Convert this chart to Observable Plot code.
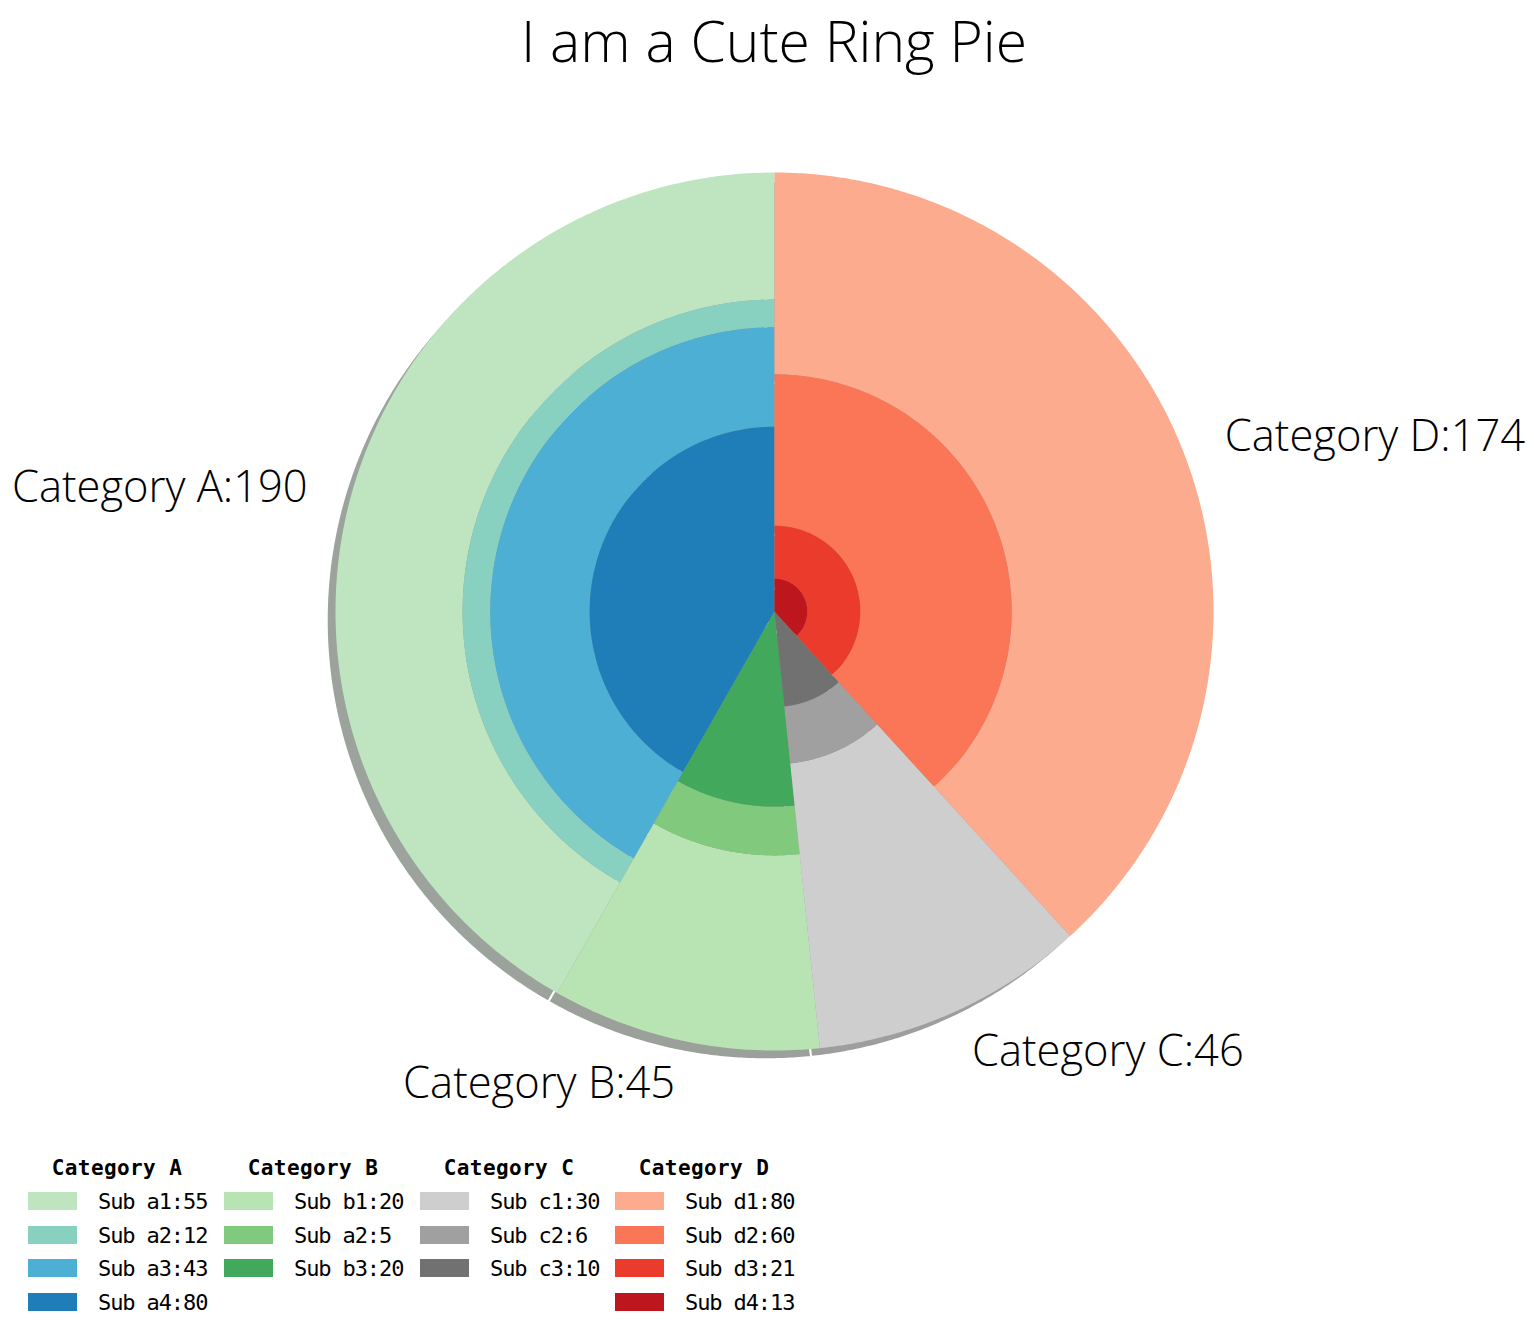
<!DOCTYPE html>
<html><head><meta charset="utf-8">
<script src="https://cdn.jsdelivr.net/npm/d3@7"></script>
<script src="https://cdn.jsdelivr.net/npm/@observablehq/plot@0.6"></script>
<style>
body{margin:0;background:#fff;}
#wrap{position:relative;width:1534px;height:1330px;overflow:hidden;background:#fff;}
#title{position:absolute;left:0;top:1px;width:1534px;box-sizing:border-box;padding-left:14px;text-align:center;font-family:"Open Sans";font-weight:300;font-size:57px;line-height:normal;color:#000;}
#chart{position:absolute;left:0;top:90px;}
.lgt{position:absolute;font-family:"DejaVu Sans Mono";font-weight:bold;font-size:21px;letter-spacing:0.4px;color:#000;white-space:nowrap;transform:translate(-50%,-50%);}
.lge{position:absolute;font-family:"DejaVu Sans Mono";font-size:22px;letter-spacing:-1.1px;color:#000;white-space:nowrap;transform:translateY(-50%);}
.sw{position:absolute;width:49px;height:18px;transform:translateY(-50%);}
</style></head>
<body><div id="wrap"><div id="title">I am a Cute Ring Pie</div><div id="chart"></div><div id="legend"></div></div>
<script>
const categories = ["Category A","Category B","Category C","Category D"];
const subNamesA = ["Sub a1","Sub a2","Sub a3","Sub a4"];
const subNamesB = ["Sub b1","Sub a2","Sub b3"];
const subNamesC = ["Sub c1","Sub c2","Sub c3"];
const subNamesD = ["Sub d1","Sub d2","Sub d3","Sub d4"];
const subValuesA = [55,12,43,80];
const subValuesB = [20,5,20];
const subValuesC = [30,6,10];
const subValuesD = [80,60,21,13];
const colorsA = ["#bee5bf","#88d0c0","#4cafd3","#1f7eb8"];
const colorsB = ["#b8e3b2","#80c97d","#41a85c"];
const colorsC = ["#cecece","#a0a0a0","#717171"];
const colorsD = ["#fcab8f","#fb7656","#eb3b2c","#bd161c"];

const subNames = [subNamesA, subNamesB, subNamesC, subNamesD];
const subValues = [subValuesA, subValuesB, subValuesC, subValuesD];
const subColors = [colorsA, colorsB, colorsC, colorsD];

const startAngle = 90, labelDistance = 1.1, shadowDx = -0.02, shadowDy = -0.02;
const totals = subValues.map(v => d3.sum(v));
const grand = d3.sum(totals);

const wedges = [];
const labels = [];
let cum = 0;
categories.forEach((c, k) => {
  const a0 = startAngle + 360 * cum / grand;
  cum += totals[k];
  const a1 = startAngle + 360 * cum / grand;
  const vals = subValues[k];
  vals.forEach((v, i) => {
    wedges.push({a0, a1, rOut: d3.sum(vals.slice(i)) / totals[k], rIn: d3.sum(vals.slice(i + 1)) / totals[k], color: subColors[k][i]});
  });
  const mid = (a0 + a1) / 2 * Math.PI / 180;
  labels.push({x: labelDistance * Math.cos(mid), y: labelDistance * Math.sin(mid), text: `${c}:${totals[k]}`});
});

function ring(w, dx, dy) {
  const n = Math.max(2, Math.ceil((w.a1 - w.a0) / 0.4));
  const pts = [];
  for (let j = 0; j <= n; j++) {
    const a = (w.a0 + (w.a1 - w.a0) * j / n) * Math.PI / 180;
    pts.push({x: dx + w.rOut * Math.cos(a), y: dy + w.rOut * Math.sin(a)});
  }
  if (w.rIn > 1e-9) {
    for (let j = n; j >= 0; j--) {
      const a = (w.a0 + (w.a1 - w.a0) * j / n) * Math.PI / 180;
      pts.push({x: dx + w.rIn * Math.cos(a), y: dy + w.rIn * Math.sin(a)});
    }
  } else pts.push({x: dx, y: dy});
  return pts;
}

const marks = [];
wedges.forEach(w => {
  const c = d3.rgb(w.color);
  const sc = d3.rgb(c.r * 0.3, c.g * 0.3, c.b * 0.3).formatHex();
  marks.push(Plot.line(ring(w, shadowDx, shadowDy), {x: "x", y: "y", curve: "linear-closed", fill: sc, fillOpacity: 0.5, stroke: "white", strokeWidth: 2}));
});
wedges.forEach(w => {
  marks.push(Plot.line(ring(w, 0, 0), {x: "x", y: "y", curve: "linear-closed", fill: w.color, stroke: null}));
});
const txt = {x: "x", y: "y", text: "text", fontFamily: "Open Sans", fontWeight: 300, fontSize: 43.5, fill: "black"};
marks.push(Plot.text(labels.filter(d => d.x < 0), {...txt, textAnchor: "end"}));
marks.push(Plot.text(labels.filter(d => d.x >= 0), {...txt, textAnchor: "start"}));

const plot = Plot.plot({
  width: 1534, height: 1040,
  marginLeft: 335, marginRight: 321, marginTop: 82, marginBottom: 80,
  x: {domain: [-1, 1], axis: null},
  y: {domain: [-1, 1], axis: null},
  style: {background: "white", overflow: "visible"},
  marks
});
document.getElementById("chart").appendChild(plot);

// legend
const lg = document.getElementById("legend");
const colX = [28, 224, 420, 615];
const titleY = 1168, rowY = [1201, 1235, 1268, 1302];
categories.forEach((c, k) => {
  const t = document.createElement("div");
  t.className = "lgt"; t.textContent = c;
  t.style.left = (colX[k] + 89) + "px"; t.style.top = titleY + "px";
  lg.appendChild(t);
  subValues[k].forEach((v, i) => {
    const s = document.createElement("div");
    s.className = "sw"; s.style.background = subColors[k][i];
    s.style.left = colX[k] + "px"; s.style.top = rowY[i] + "px";
    lg.appendChild(s);
    const e = document.createElement("div");
    e.className = "lge"; e.textContent = `${subNames[k][i]}:${v}`;
    e.style.left = (colX[k] + 70) + "px"; e.style.top = rowY[i] + "px";
    lg.appendChild(e);
  });
});
</script>
</body></html>
